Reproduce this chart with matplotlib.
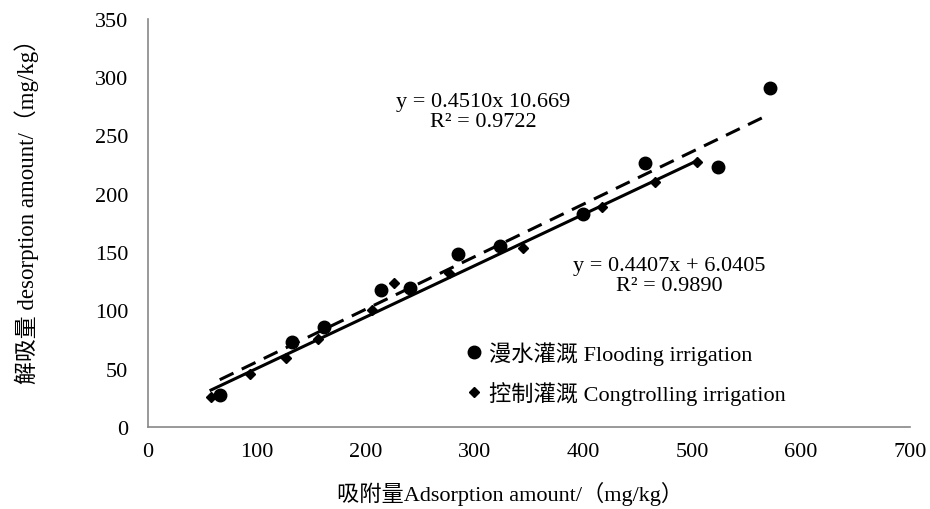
import matplotlib.pyplot as plt
import numpy as np

# 漫水灌溉 Flooding irrigation
flood_x = [66, 132, 162, 214, 241, 285, 323, 400, 457, 524, 571]
flood_y = [27.5, 73, 86, 117.5, 119, 148, 155, 183, 226, 223, 291]

# 控制灌溉 Congtrolling irrigation
ctrl_x = [58, 94, 127, 156, 206, 226, 277, 345, 417, 466, 504]
ctrl_y = [26, 45, 59, 75, 100, 123.5, 132, 153.5, 189, 210, 227]

# trend line coefficients (slope, intercept)
flood_fit = [0.4510, 10.669]
ctrl_fit = [0.4407, 6.0405]

flood_eq = 'y = 0.4510x 10.669\nR² = 0.9722'
ctrl_eq = 'y = 0.4407x + 6.0405\nR² = 0.9890'

fonts = ['Liberation Serif', 'Noto Sans CJK SC']
plt.rcParams['font.family'] = fonts

fig = plt.figure(figsize=(9.3, 5.1), dpi=100)
ax = fig.add_axes([0.159, 0.161, 0.8195, 0.8])

ax.plot(flood_x, flood_y, 'o', color='black', markersize=9, label='漫水灌溉 Flooding irrigation')
ax.plot(ctrl_x, ctrl_y, 'D', color='black', markersize=5.5, label='控制灌溉 Congtrolling irrigation')

fx = np.array([min(flood_x), max(flood_x)])
ax.plot(fx, flood_fit[0] * fx + flood_fit[1], color='black', lw=2.2, ls=(0, (5, 3)))
cx = np.array([min(ctrl_x), max(ctrl_x)])
ax.plot(cx, ctrl_fit[0] * cx + ctrl_fit[1], color='black', lw=2.2)

ax.text(308, 270.5, flood_eq, ha='center', va='center', fontsize=16, linespacing=1.1)
ax.text(479, 130, ctrl_eq, ha='center', va='center', fontsize=16, linespacing=1.1)

ax.set_xlim(0, 700)
ax.set_ylim(0, 350)
ax.set_xticks(range(0, 701, 100))
ax.set_yticks(range(0, 351, 50))
ax.tick_params(axis='y', length=0, labelsize=16, pad=14)
ax.tick_params(axis='x', length=0, labelsize=16, pad=11)
for s in ['top', 'right']:
    ax.spines[s].set_visible(False)
for s in ['left', 'bottom']:
    ax.spines[s].set_color('#888888')
    ax.spines[s].set_linewidth(1.2)

ax.set_xlabel('吸附量Adsorption amount/（mg/kg）', fontsize=16)
ax.set_ylabel('解吸量 desorption amount/（mg/kg）', fontsize=16.5)
ax.xaxis.set_label_coords(0.475, -0.133)
ax.yaxis.set_label_coords(-0.143, 0.544)

ax.legend(loc='upper left', bbox_to_anchor=(0.404, 0.238), frameon=False, fontsize=16,
          handlelength=0.6, handletextpad=0.4, labelspacing=0.75, borderpad=0)

fig.savefig('out.png', dpi=100)
